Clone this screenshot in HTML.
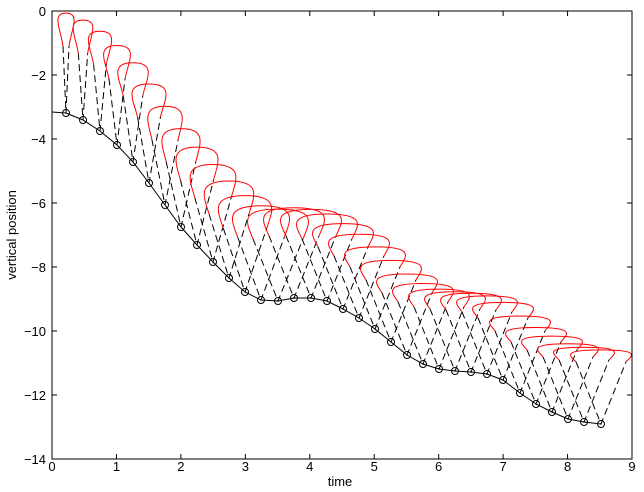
<!DOCTYPE html>
<html><head><meta charset="utf-8"><style>
body{margin:0;background:#fff}
svg{display:block}
text{font-family:"Liberation Sans",sans-serif;font-size:13px;fill:#000}
</style></head><body>
<svg id="s" width="644" height="492" xmlns="http://www.w3.org/2000/svg">
<rect x="0" y="0" width="644" height="492" fill="#fff"/>
<g id="plot"></g>
<rect x="52" y="11" width="580" height="448" fill="none" stroke="#000" stroke-width="1"/>
<g id="ax"></g>
<text x="340" y="486" text-anchor="middle">time</text>
<text transform="translate(16,235) rotate(-90)" text-anchor="middle">vertical position</text>
</svg>
<script>
(function(){
var NS="http://www.w3.org/2000/svg";
function el(t,a,p){var e=document.createElementNS(NS,t);for(var k in a)e.setAttribute(k,a[k]);(p||document.getElementById('plot')).appendChild(e);return e;}
var ax=document.getElementById('ax');
for(var i=0;i<=9;i++){var x=52+i*580/9;
 el('line',{x1:x,y1:459,x2:x,y2:454,stroke:'#000'},ax);
 el('line',{x1:x,y1:11,x2:x,y2:16,stroke:'#000'},ax);
 var t=el('text',{x:x,y:471,'text-anchor':'middle'},ax);t.textContent=i;}
for(var k=0;k<=7;k++){var y=11+k*64;
 el('line',{x1:52,y1:y,x2:57,y2:y,stroke:'#000'},ax);
 el('line',{x1:632,y1:y,x2:627,y2:y,stroke:'#000'},ax);
 var t=el('text',{x:46,y:y+5,'text-anchor':'end'},ax);t.textContent=k==0?'0':'\u2212'+(2*k);}
var C=[[66,113],[83,120],[100,131],[117,145],[133,162],[149,183],[165,205],[181,227],[197,245],[213,262],[229,278],[245,292],[261,300],[278,301],[294,298],[311,298],[327,301],[343,309],[359,318],[375,329],[391,342],[407,355],[423,364],[439,369],[455,371],[471,372],[487,374],[503,380],[520,393],[536,404],[552,412],[568,419],[584,422],[601,424]];
var n=C.length;
for(var i=0;i<n;i++){
 var bx=C[i][0],by=C[i][1];
 var w=3+22*Math.min(1,i/13);
 var h=Math.sqrt(67*67-w*w);
 var Lx=bx-w,Rx=bx+w,Ly=by-h;
 var hb;
 if(i<=11)hb=33;else if(i<=19)hb=33-13*(i-11)/8;else hb=20-8*(i-19)/14;
 var bw=w+5+(i<6?3:0);
 var ytop=Ly-hb;
 el('path',{d:'M'+Lx+','+Ly+' L'+bx+','+by+' L'+Rx+','+Ly,fill:'none',stroke:'#000','stroke-dasharray':'7,4'});
 var d='M'+Lx+','+Ly+' C'+(Lx-0.2*bw)+','+(Ly-hb*0.5)+' '+(bx-bw*1.35)+','+ytop+' '+bx+','+ytop+
   ' C'+(bx+bw*1.35)+','+ytop+' '+(Rx+0.2*bw)+','+(Ly-hb*0.5)+' '+Rx+','+Ly;
 el('path',{d:d,fill:'none',stroke:'#f00'});
}
var pts='52,112';for(var i=0;i<n;i++)pts+=' '+C[i][0]+','+C[i][1];
el('polyline',{points:pts,fill:'none',stroke:'#000'});
for(var i=0;i<n;i++)el('circle',{cx:C[i][0],cy:C[i][1],r:3.5,fill:'none',stroke:'#000'});
})();
</script>
</body></html>
